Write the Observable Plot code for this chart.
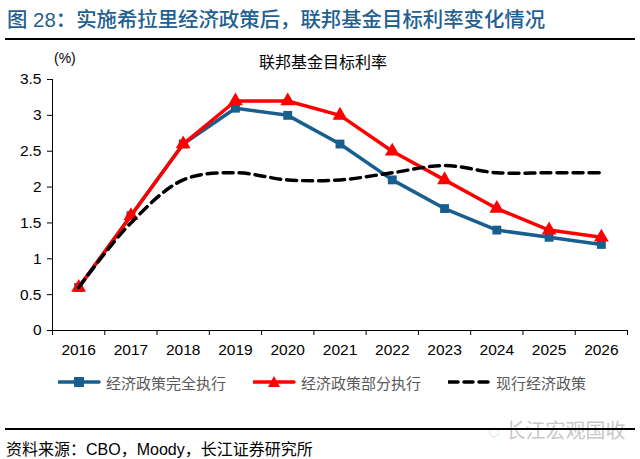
<!DOCTYPE html>
<html><head><meta charset="utf-8">
<script src="https://cdn.jsdelivr.net/npm/d3@7"></script>
<script src="https://cdn.jsdelivr.net/npm/@observablehq/plot@0.6"></script>
<style>
body{margin:0;background:#fff;font-family:"Liberation Sans","Noto Sans CJK SC",sans-serif;}
#wrap{position:relative;width:640px;height:459px;overflow:hidden;}
#title{position:absolute;left:7px;top:3px;font-size:20.4px;font-weight:500;color:#24608F;font-family:"Liberation Sans","Noto Sans CJK SC",sans-serif;white-space:nowrap;}
#tline{position:absolute;left:5px;top:38px;width:630px;height:2px;background:#000;}
#plot{position:absolute;left:0;top:45px;}
#ctitle{position:absolute;left:0;width:646px;text-align:center;top:49px;font-size:16px;color:#000;}
#unit{position:absolute;left:54px;top:50px;font-size:14px;color:#000;}
#legend{position:absolute;top:371px;left:0;width:640px;font-size:15px;color:#595959;}
.li{position:absolute;top:0;display:flex;align-items:center;height:22px;white-space:nowrap;}
#bline{position:absolute;left:5px;top:428px;width:630px;height:1.5px;background:#000;}
#src{position:absolute;left:6px;top:436px;font-size:16px;color:#000;white-space:nowrap;}
#wm{position:absolute;left:488px;top:415px;font-size:20px;color:#c8c8c8;white-space:nowrap;}
</style></head>
<body><div id="wrap">
<div id="title">图 28：实施希拉里经济政策后，联邦基金目标利率变化情况</div>
<div id="tline"></div>
<div id="plot"></div>
<div id="ctitle">联邦基金目标利率</div>
<div id="unit">(%)</div>
<div id="legend"></div>
<div id="wm">◌ 长江宏观国收</div>
<div id="bline"></div>
<div id="src">资料来源：CBO，Moody，长江证券研究所</div>
</div>
<script>
const years = [2016,2017,2018,2019,2020,2021,2022,2023,2024,2025,2026];
const fullPolicy = [0.6,1.6,2.6,3.1,3.0,2.6,2.1,1.7,1.4,1.3,1.2];
const partialPolicy = [0.6,1.6,2.6,3.2,3.2,3.0,2.5,2.1,1.7,1.4,1.3];
const currentPolicy = [0.6,1.5,2.1,2.2,2.1,2.1,2.2,2.3,2.2,2.2,2.2];
const seriesNames = ["经济政策完全执行","经济政策部分执行","现行经济政策"];
const yTicks = [0,0.5,1,1.5,2,2.5,3,3.5];
const blue = "#185F8F", red = "#FF0000", black = "#000000";

const full = years.map((y,i)=>({year:y,value:fullPolicy[i]}));
const partial = years.map((y,i)=>({year:y,value:partialPolicy[i]}));
const current = years.map((y,i)=>({year:y,value:currentPolicy[i]}));
const bounds = d3.range(years[0]-0.5, years[years.length-1]+1, 1);

const chart = Plot.plot({
  width: 640, height: 315,
  marginLeft: 52, marginRight: 13, marginTop: 34, marginBottom: 30,
  style: {fontFamily: "Liberation Sans, Arial, sans-serif", fontSize: "15.5px", color: "#000"},
  x: {type: "linear", domain: [bounds[0], bounds[bounds.length-1]], label: null},
  y: {domain: [0, 3.5], label: null},
  marks: [
    Plot.axisY({ticks: yTicks, tickSize: 5, tickPadding: 6, tickFormat: d=>String(d), label: null, stroke:"#000"}),
    Plot.axisX({ticks: bounds, tickSize: 5, tickFormat: ()=>"", label: null}),
    Plot.axisX({ticks: years, tickSize: 0, tickPadding: 13, tickFormat: d=>String(d), label: null}),
    Plot.ruleX([bounds[0]], {stroke: "#000", strokeWidth: 1}),
    Plot.ruleY([0], {stroke: "#000", strokeWidth: 1}),
    Plot.line(full, {x:"year", y:"value", stroke: blue, strokeWidth: 3.5}),
    Plot.dot(full, {x:"year", y:"value", symbol:"square", r: 5, fill: blue}),
    Plot.line(partial, {x:"year", y:"value", stroke: red, strokeWidth: 3.5}),
    Plot.dot(partial, {x:"year", y:"value", symbol:"triangle", r: 5.5, fill: red}),
    Plot.line(current, {x:"year", y:"value", stroke: black, strokeWidth: 3.5, strokeDasharray: "10,6", curve: "catmull-rom"})
  ]
});
document.getElementById("plot").appendChild(chart);

// Legend
const legend = document.getElementById("legend");
const items = [
  {name: seriesNames[0], color: blue, sym: "square", dash: null, x: 58},
  {name: seriesNames[1], color: red, sym: "triangle", dash: null, x: 253},
  {name: seriesNames[2], color: black, sym: null, dash: "9,6", x: 448}
];
items.forEach(it=>{
  const d = document.createElement("div");
  d.className = "li"; d.style.left = it.x + "px";
  let marker = "";
  if (it.sym === "square") marker = `<rect x="16" y="6" width="10" height="10" fill="${it.color}"/>`;
  if (it.sym === "triangle") marker = `<path d="M21,5 L27,16 L15,16 Z" fill="${it.color}"/>`;
  d.innerHTML = `<svg width="44" height="22"><line x1="1" y1="11" x2="41" y2="11" stroke="${it.color}" stroke-width="3.5" ${it.dash?`stroke-dasharray="${it.dash}"`:""} stroke-linecap="round"/>${marker}</svg><span style="margin-left:4px">${it.name}</span>`;
  legend.appendChild(d);
});
</script>
</body></html>
